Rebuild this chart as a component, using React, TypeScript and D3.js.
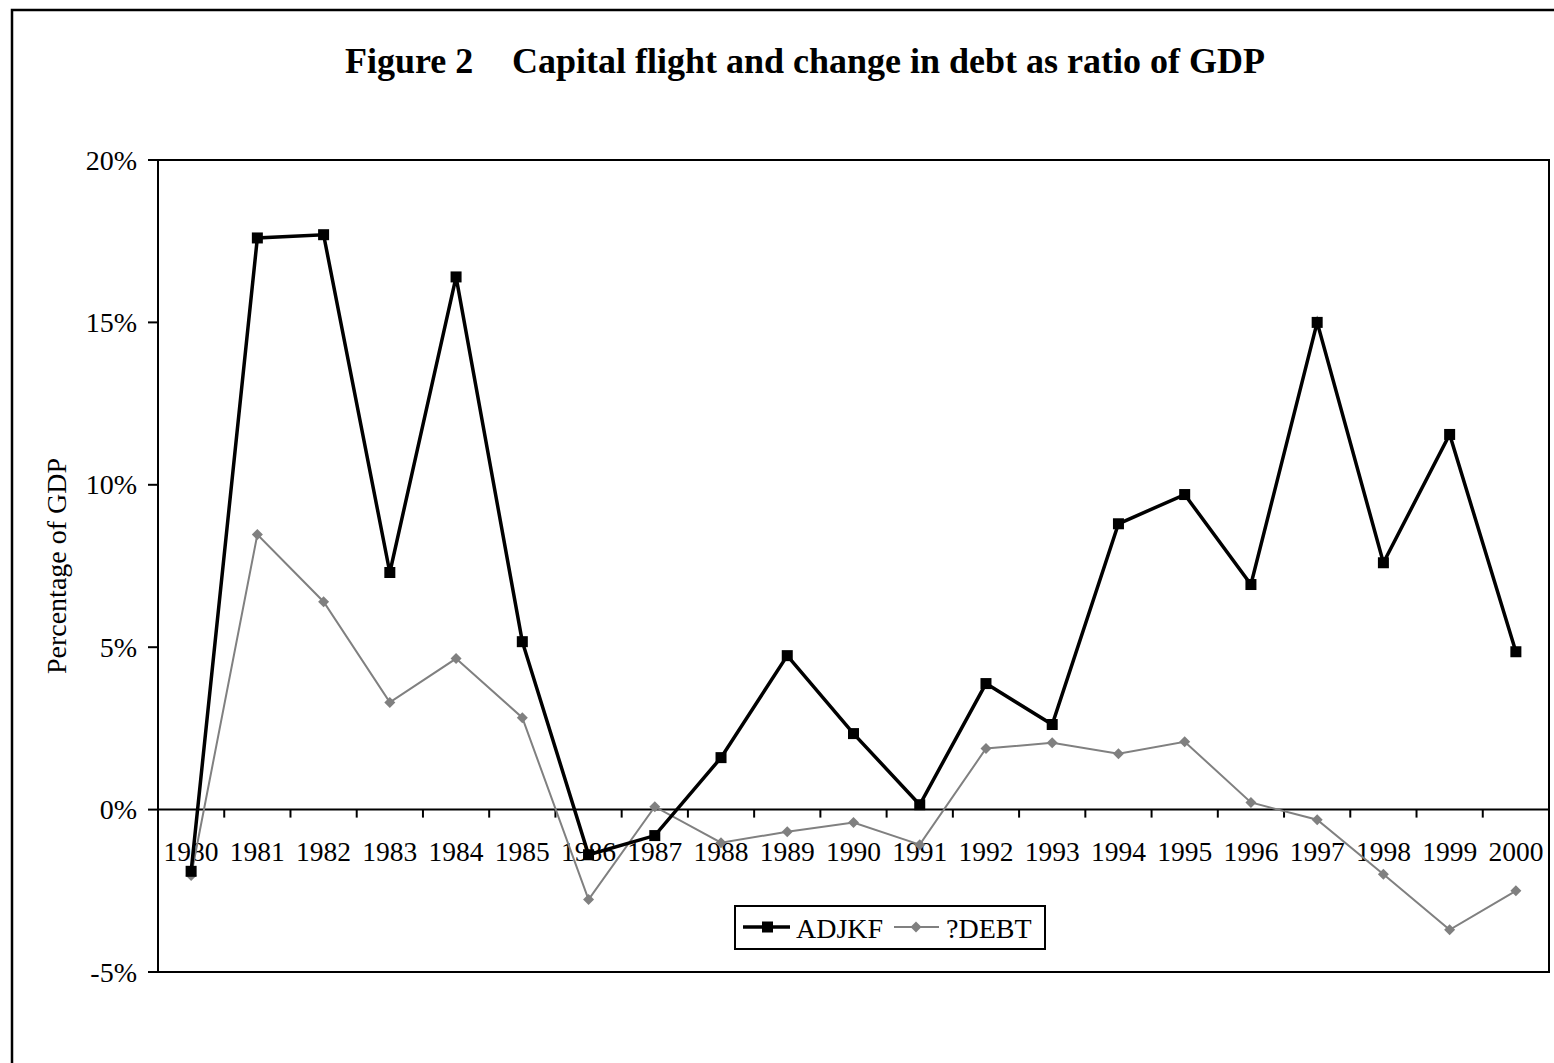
import React from "react";
import * as d3 from "d3";

const years = ["1980","1981","1982","1983","1984","1985","1986","1987","1988","1989","1990","1991","1992","1993","1994","1995","1996","1997","1998","1999","2000"];
const adjkf = [-1.9, 17.6, 17.7, 7.3, 16.4, 5.17, -1.39, -0.8, 1.6, 4.74, 2.34, 0.15, 3.88, 2.62, 8.8, 9.7, 6.93, 15.0, 7.6, 11.55, 4.86];
const debt = [-2.03, 8.47, 6.4, 3.3, 4.65, 2.83, -2.77, 0.09, -1.02, -0.68, -0.4, -1.08, 1.88, 2.06, 1.72, 2.09, 0.22, -0.31, -1.99, -3.7, -2.5];
const yTicks = [-5, 0, 5, 10, 15, 20];
const seriesNames = ["ADJKF", "?DEBT"];

const W = 1554, H = 1063;
const L = 158, R = 1549, T = 160, B = 972;
const FONT = "'Liberation Serif', 'Times New Roman', serif";

export default function App() {
  const x = d3.scaleBand<string>().domain(years).range([L, R]).padding(0);
  const y = d3.scaleLinear().domain([-5, 20]).range([B, T]);
  const cx = (i: number) => (x(years[i]) as number) + x.bandwidth() / 2;
  const line = d3.line<number>().x((_, i) => cx(i)).y((d) => y(d));
  const y0 = y(0);
  const diamond = (px: number, py: number, r: number) =>
    `M${px},${py - r}L${px + r},${py}L${px},${py + r}L${px - r},${py}Z`;

  return (
    <svg width={W} height={H} style={{ position: "fixed", left: 0, top: 0, background: "#fff" }} fontFamily={FONT}>
      <rect x={0} y={0} width={W} height={H} fill="#fff" />
      <rect x={12} y={10} width={1570} height={1100} fill="none" stroke="#000" strokeWidth={2.5} />
      <text x={345} y={73} fontSize={36} fontWeight="bold">Figure 2</text>
      <text x={512} y={73} fontSize={36} fontWeight="bold">Capital flight and change in debt as ratio of GDP</text>

      {/* plot area */}
      <rect x={L} y={T} width={R - L} height={B - T} fill="none" stroke="#000" strokeWidth={2} />

      {/* y axis ticks */}
      {yTicks.map((t) => (
        <g key={t}>
          <line x1={L - 10} x2={L} y1={y(t)} y2={y(t)} stroke="#000" strokeWidth={2} />
          <text x={137} y={y(t)} fontSize={28} textAnchor="end" dominantBaseline="central">{t}%</text>
        </g>
      ))}
      <text transform={`translate(66,${(T + B) / 2}) rotate(-90)`} fontSize={28} textAnchor="middle">Percentage of GDP</text>

      {/* zero axis */}
      <line x1={L} x2={R} y1={y0} y2={y0} stroke="#000" strokeWidth={2} />
      {years.map((yr) => (
        <line key={"t" + yr} x1={x(yr) as number} x2={x(yr) as number} y1={y0} y2={y0 + 8} stroke="#000" strokeWidth={2} />
      ))}
      <line x1={R} x2={R} y1={y0} y2={y0 + 8} stroke="#000" strokeWidth={2} />
      {years.map((yr, i) => (
        <text key={"l" + yr} x={cx(i)} y={861} fontSize={27.5} textAnchor="middle">{yr}</text>
      ))}

      {/* DEBT series */}
      <path d={line(debt) as string} fill="none" stroke="#808080" strokeWidth={2} />
      {debt.map((v, i) => (
        <path key={"d" + i} d={diamond(cx(i), y(v), 5.5)} fill="#808080" />
      ))}

      {/* ADJKF series */}
      <path d={line(adjkf) as string} fill="none" stroke="#000" strokeWidth={3.5} strokeLinejoin="miter" />
      {adjkf.map((v, i) => (
        <rect key={"a" + i} x={cx(i) - 5.5} y={y(v) - 5.5} width={11} height={11} fill="#000" />
      ))}

      {/* legend */}
      <rect x={735} y={906} width={310} height={43} fill="#fff" stroke="#000" strokeWidth={2} />
      <line x1={743} x2={790} y1={927} y2={927} stroke="#000" strokeWidth={3.5} />
      <rect x={762} y={921.5} width={11} height={11} fill="#000" />
      <text x={796} y={938} fontSize={28}>{seriesNames[0]}</text>
      <line x1={894} x2={939} y1={927} y2={927} stroke="#808080" strokeWidth={2} />
      <path d={diamond(916, 927, 5.5)} fill="#808080" />
      <text x={946} y={938} fontSize={28}>{seriesNames[1]}</text>
    </svg>
  );
}
